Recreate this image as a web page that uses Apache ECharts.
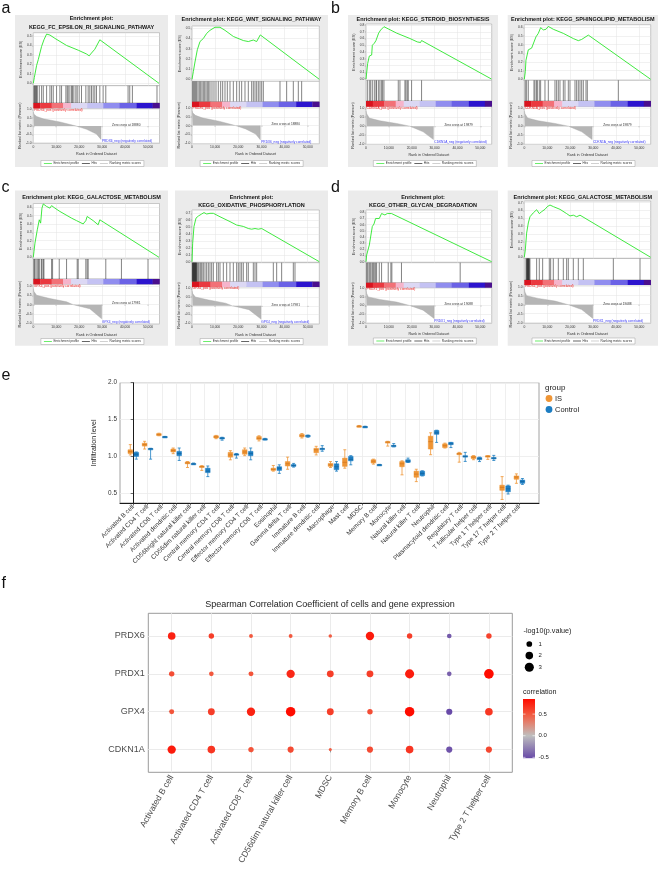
<!DOCTYPE html>
<html><head><meta charset="utf-8">
<script src="https://cdn.jsdelivr.net/npm/echarts@6/dist/echarts.min.js"></script>
<style>html,body{margin:0;padding:0;background:#fff}#c{width:660px;height:876px}</style>
</head><body><div id="c"></div>
<script>
// ================= DATA =================
// ---- GSEA (panels a-d) ----
const rankTicks = [0, 10000, 20000, 30000, 40000, 50000];
const metricTicks = [-1, -0.5, 0, 0.5, 1];
const barSegStart = [0, 3000, 8000, 13000, 16500, 23500, 30500, 37500, 45000, 52000];
const barSegEnd   = [3000, 8000, 13000, 16500, 23500, 30500, 37500, 45000, 52000, 55000];
const barSegColor = ['#D9141F','#EA3940','#F27177','#F6B4CB','#DCD8F4','#C4C2F3','#908DEF','#6B62E6','#2C14CE','#4A0F8E'];

const metPRDX6_rank = [0, 300, 1450, 4350, 11600, 18800, 23200, 27500, 29500, 29500];
const metPRDX6_val  = [0.85, 0.72, 0.58, 0.44, 0.25, 0.0, -0.19, -0.48, -0.80, 0];
const metCDKN1A_rank = [0, 300, 1456, 6115, 13392, 19214, 25036, 29500, 29500];
const metCDKN1A_val  = [0.85, 0.70, 0.45, 0.30, 0.15, 0.0, -0.32, -0.75, 0];
const metGPX4_rank = [0, 300, 1450, 7250, 14500, 17400, 24600, 29800, 29800];
const metGPX4_val  = [0.87, 0.70, 0.50, 0.33, 0.15, 0.0, -0.22, -0.76, 0];
const metPRDX1_rank = [0, 300, 1016, 6100, 13400, 19150, 24960, 29800, 29800];
const metPRDX1_val  = [0.90, 0.70, 0.50, 0.35, 0.20, 0.0, -0.27, -0.76, 0];

const aL_rank = [0,435,1450,2170,3620,4640,5800,7250,9420,14500,19570,23190,24350,25360,26810,28990,54780];
const aL_es   = [0,0.06,0.19,0.25,0.39,0.46,0.52,0.51,0.475,0.40,0.35,0.31,0.29,0.32,0.36,0.46,0];
const aL_hits = [290,580,870,1160,1450,1740,2610,3620,4350,5800,7250,7970,8700,10140,11590,12320,14200,14780,15220,15940,16670,17100,17680,18550,19130,20000,21010,22900,23910,24640,25360,26090,26810,27540,28990,30430,31590,41300,42030,43190,53910];
const aL_esTicks = [0,0.1,0.2,0.3,0.4,0.5];

const aR_rank = [0,576,1296,2304,3456,4896,6336,7776,9935,12095,14255,17855,22174,24334,26494,27934,29500,55000];
const aR_es   = [0,0.075,0.17,0.29,0.37,0.40,0.45,0.48,0.51,0.51,0.48,0.42,0.38,0.37,0.385,0.37,0.435,0];
const aR_hits = [288,720,1152,1584,2016,2592,3168,3744,4320,4896,5472,6048,6624,7200,7776,8640,9504,10368,11376,12384,13248,14256,15264,16416,17856,19296,20448,21456,22896,24336,25776,26496,27216,27936,28656,29376,30096,30816,38016,40896,43776,45936,47376];
const aR_esTicks = [0,0.1,0.2,0.3,0.4,0.5];

const bL_rank = [0,582,728,1456,2475,2766,3639,4367,4949,5531,6114,6405,6841,7278,7860,13392,19214,22416,23872,24309,54876];
const bL_es   = [0,0,0.23,0.34,0.355,0.50,0.53,0.57,0.55,0.68,0.70,0.725,0.70,0.75,0.775,0.68,0.60,0.55,0.54,0.57,0];
const bL_hits = [582,1456,2038,2766,3640,4368,4659,5533,6115,6843,7280,7862,14123,14851,17035,17472,18054,18491,19947,24315];
const bL_esTicks = [0,0.1,0.2,0.3,0.4,0.5,0.6,0.7,0.8];

const bR_rank = [0,435,726,1306,1742,2467,3193,3919,5080,6096,7112,8273,9434,10450,12627,16981,21335,23512,24964,26415,27866,55000];
const bR_es   = [0,0.088,0.22,0.24,0.34,0.32,0.36,0.34,0.49,0.53,0.596,0.57,0.577,0.61,0.577,0.53,0.47,0.446,0.46,0.485,0.51,0];
const bR_hits = [435,1016,1741,4208,4643,5369,5659,6530,7110,8996,10447,13349,14074,14800,15525,16976,17702,19153,19879,22055,22781,23506,24232,24958,25683,26844,27424,40918];
const bR_esTicks = [0,0.1,0.2,0.3,0.4,0.5,0.6];

const cL_rank = [0,290,725,1159,1739,2609,3188,3768,4348,5797,7246,7971,9420,11594,16667,18841,21739,22899,23478,26087,28261,28986,54783];
const cL_es   = [0,0.068,0.17,0.16,0.33,0.45,0.41,0.59,0.64,0.61,0.59,0.62,0.59,0.55,0.47,0.44,0.40,0.44,0.49,0.44,0.39,0.45,0];
const cL_hits = [290,580,1159,1739,2319,2609,3478,3768,4348,4638,7971,8406,11304,14493,19130,19565,22899,23478,23913,31594,38406,49997];
const cL_esTicks = [0,0.1,0.2,0.3,0.4,0.5,0.6];

const cR_rank = [0,288,864,1728,2736,4176,5184,6336,7776,9215,12095,16415,19294,22174,24334,25774,27214,28654,30094,55000];
const cR_es   = [0,0.266,0.51,0.63,0.66,0.69,0.71,0.69,0.70,0.70,0.65,0.58,0.53,0.51,0.48,0.47,0.48,0.47,0.48,0];
const cR_hits = [144,288,432,576,720,864,1008,1152,1296,1440,1584,1728,1872,2016,2448,2880,3456,3888,4320,4896,5616,6336,7056,7776,8496,9216,10656,11376,12096,13536,14976,16416,17856,19296,20016,20736,21456,22176,23616,24336,26496,27216,27936,35136,36576,38736,43776,44496];
const cR_esTicks = [0,0.1,0.2,0.3,0.4,0.5,0.6,0.7];

const dL_rank = [0,290,1016,1451,2032,2758,3483,4209,4935,5806,6821,8273,9289,10160,11176,55000];
const dL_es   = [0,0.108,0.124,0.27,0.30,0.57,0.61,0.70,0.73,0.70,0.78,0.757,0.78,0.757,0.78,0];
const dL_hits = [290,726,1306,1741,2177,2757,3192,3628,4208,4643,5804,6820,9722,10883,11318,15526,41208];
const dL_esTicks = [0,0.1,0.2,0.3,0.4,0.5,0.6,0.7,0.8];

const dR_rank = [0,435,1016,1742,2467,3193,3919,5370,6531,7547,8273,8999,10015,11176,12627,15530,18433,19884,21335,22787,24238,55000];
const dR_es   = [0,0.094,0.31,0.44,0.52,0.54,0.57,0.61,0.56,0.585,0.60,0.615,0.65,0.67,0.65,0.615,0.56,0.53,0.54,0.52,0.54,0];
const dR_hits = [726,1016,1161,1306,1451,1596,1741,1886,2031,2177,2467,5369,6530,7981,10883,11463,12624,14800,16977,18428,19153,21330,23506,25683,38742,50350];
const dR_esTicks = [0,0.1,0.2,0.3,0.4,0.5,0.6,0.7];

// ---- panel e ----
const immuneCells = ['Activated B cell','Activated CD4 T cell','Activated CD8 T cell','Activated dendritic cell','CD56bright natural killer cell','CD56dim natural killer cell','Central memory CD4 T cell','Central memory CD8 T cell','Effector memory CD4 T cell','Effector memory CD8 T cell','Eosinophil','Gamma delta T cell','Immature B cell','Immature dendritic cell','Macrophage','Mast cell','MDSC','Memory B cell','Monocyte','Natural killer cell','Natural killer T cell','Neutrophil','Plasmacytoid dendritic cell','Regulatory T cell','T follicular helper cell','Type 1 T helper cell','Type 17 T helper cell','Type 2 T helper cell'];
// [min, q1, median, q3, max]
const isBox = [
[1.02,1.04,1.065,1.09,1.16],[1.10,1.14,1.16,1.18,1.205],[1.28,1.283,1.295,1.31,1.315],[1.037,1.06,1.08,1.10,1.114],
[0.85,0.90,0.91,0.925,0.93],[0.81,0.85,0.86,0.87,0.875],[1.24,1.25,1.265,1.28,1.285],[0.954,0.99,1.02,1.055,1.078],
[1.01,1.03,1.06,1.09,1.114],[1.21,1.23,1.245,1.27,1.28],[0.80,0.81,0.825,0.84,0.877],[0.826,0.87,0.90,0.93,0.99],
[1.25,1.265,1.28,1.30,1.31],[1.02,1.05,1.09,1.11,1.137],[0.85,0.865,0.885,0.905,0.93],[0.84,0.865,0.92,0.977,1.09],
[1.40,1.405,1.41,1.415,1.42],[0.895,0.91,0.935,0.955,0.963],[1.14,1.19,1.195,1.20,1.205],[0.75,0.86,0.90,0.93,0.94],
[0.658,0.717,0.76,0.80,0.826],[1.023,1.10,1.20,1.274,1.32],[1.114,1.12,1.145,1.17,1.18],[0.922,1.023,1.035,1.046,1.055],
[0.955,0.97,0.99,1.005,1.01],[0.96,0.99,1.0,1.01,1.01],[0.416,0.54,0.58,0.61,0.726],[0.635,0.69,0.72,0.735,0.763]];
const controlBox = [
[0.963,1.0,1.03,1.055,1.06],[0.963,1.10,1.105,1.108,1.11],[1.26,1.262,1.266,1.27,1.272],[0.945,1.01,1.04,1.068,1.114],
[0.89,0.895,0.90,0.905,0.91],[0.726,0.78,0.80,0.84,0.87],[1.22,1.24,1.25,1.255,1.26],[0.977,1.02,1.025,1.035,1.04],
[0.954,1.01,1.04,1.068,1.114],[1.225,1.23,1.235,1.24,1.245],[0.77,0.81,0.84,0.86,0.886],[0.855,0.865,0.875,0.89,0.905],
[1.26,1.27,1.28,1.285,1.29],[1.07,1.10,1.105,1.11,1.146],[0.80,0.82,0.86,0.90,0.93],[0.886,0.94,0.96,1.0,1.01],
[1.395,1.40,1.403,1.406,1.41],[0.88,0.882,0.886,0.89,0.892],[1.13,1.14,1.146,1.15,1.174],[0.918,0.92,0.935,0.955,0.977],
[0.735,0.74,0.77,0.80,0.805],[1.19,1.30,1.32,1.352,1.355],[1.12,1.16,1.17,1.19,1.19],[0.932,0.99,1.0,1.01,1.055],
[0.93,0.955,0.97,0.985,0.99],[0.945,0.97,0.977,0.985,1.014],[0.49,0.52,0.56,0.60,0.61],[0.62,0.635,0.66,0.68,0.70]];
const sigMarks = ['**','**','*','','','**','','','','','','','','','','','*','***','**','','','*','','','','','','*'];
const sigLevel = 1.9;
const eYTicks = [0.5, 1.0, 1.5, 2.0];

// ---- panel f ----
const fCells = ['Activated B cell','Activated CD4 T cell','Activated CD8 T cell','CD56dim natural killer cell','MDSC','Memory B cell','Monocyte','Neutrophil','Type 2 T helper cell'];
const fGenes = ['CDKN1A','GPX4','PRDX1','PRDX6'];
const logP_CDKN1A = [2.45,2.0,0.85,1.2,0.05,1.2,2.0,1.2,1.2];
const logP_GPX4   = [0.67,1.56,2.45,3.3,1.56,0.85,3.3,1.2,2.0];
const logP_PRDX1  = [0.85,0.54,0.67,2.45,1.56,1.56,3.0,0.54,3.4];
const logP_PRDX6  = [2.0,0.85,0.28,0.28,0.18,2.45,0.85,0.54,0.85];
const corr_CDKN1A = [0.78,0.66,0.52,0.56,0.48,0.56,0.66,-0.48,0.58];
const corr_GPX4   = [0.52,0.62,0.75,0.85,0.62,0.55,0.85,-0.52,0.65];
const corr_PRDX1  = [0.55,0.50,0.52,0.72,0.62,0.62,0.77,-0.42,0.85];
const corr_PRDX6  = [0.75,0.62,0.50,0.50,0.48,0.78,0.62,-0.45,0.60];
const sizeLegendVals = [1, 2, 3];
const corrLegendVals = [0.5, 0.0, -0.5];

// ================= BUILD =================
const FF = '"Liberation Sans", Arial, Helvetica, sans-serif';
const rankMax = 55000;
const grids = [], xAxes = [], yAxes = [], series = [], gfx = [];
function addGrid(g, x, y) {
  const i = grids.length; grids.push(g);
  xAxes.push(Object.assign({gridIndex: i}, x)); yAxes.push(Object.assign({gridIndex: i}, y));
  return i;
}
function txt(x, y, text, style, rot) {
  gfx.push({type: 'text', x: x, y: y, z: 100, silent: true, rotation: rot || 0,
    style: Object.assign({text: text, fontSize: 4, fontFamily: FF, fill: '#222', align: 'left', verticalAlign: 'middle'}, style || {})});
}
const fmtK = v => String(v).replace(/\B(?=(\d{3})+(?!\d))/g, ',');

function gsea(L, P) {
  const W = L.px[1] - L.px[0];
  const bc = '#9A9A9A';
  gfx.push({type: 'rect', z: -5, silent: true, shape: {x: L.bg[0], y: L.bg[1], width: L.bg[2] - L.bg[0], height: L.bg[3] - L.bg[1]}, style: {fill: '#EBEBEB'}});
  P.title.forEach((t, i) => txt((L.bg[0] + L.bg[2]) / 2, L.titleY[i], t, {fontSize: 5.5, fontWeight: 'bold', align: 'center', fill: '#111'}));
  const gridLine = {lineStyle: {color: '#E3E3E3', width: 0.5}};
  const nameStyle = {fontSize: 3.7, color: '#333', fontFamily: FF};
  // ES plot
  const sc = (L.zeroY - L.tickY) / L.tickV;
  const esMax = (L.zeroY - L.es[0]) / sc, esMin = -(L.es[1] - L.zeroY) / sc;
  let gi = addGrid({left: L.px[0], top: L.es[0], width: W, height: L.es[1] - L.es[0], show: true, backgroundColor: '#fff', borderColor: bc, borderWidth: 0.5},
    {type: 'value', min: 0, max: rankMax, axisLine: {show: false}, axisTick: {show: false, customValues: rankTicks}, axisLabel: {show: false, customValues: rankTicks}, splitLine: gridLine},
    {type: 'value', min: esMin, max: esMax, name: 'Enrichment score (ES)', nameLocation: 'middle', nameGap: 9, nameTextStyle: nameStyle,
     axisLine: {show: false}, axisTick: {customValues: P.esTicks, length: 1.2, lineStyle: {color: '#777', width: 0.4}},
     axisLabel: {customValues: P.esTicks, fontSize: 3.3, color: '#333', margin: 1.6, fontFamily: FF, formatter: v => v.toFixed(1)}, splitLine: gridLine});
  series.push({type: 'line', xAxisIndex: gi, yAxisIndex: gi, data: P.rank.map((r, i) => [r, P.es[i]]), symbol: 'none', silent: true, z: 3,
    lineStyle: {color: '#2BE62B', width: 0.9}});
  // Hits
  gi = addGrid({left: L.px[0], top: L.hit[0], width: W, height: L.hit[1] - L.hit[0], show: true, backgroundColor: '#fff', borderColor: bc, borderWidth: 0.5},
    {type: 'value', min: 0, max: rankMax, show: false}, {type: 'value', min: 0, max: 1, show: false});
  series.push({type: 'custom', xAxisIndex: gi, yAxisIndex: gi, silent: true, data: P.hits.map(h => [h, 0.5]),
    renderItem: (params, api) => {
      const x = api.coord([api.value(0), 0.5])[0], cs = params.coordSys;
      return {type: 'line', shape: {x1: x, y1: cs.y, x2: x, y2: cs.y + cs.height}, style: {stroke: '#1E1E1E', lineWidth: 0.55}};
    }});
  // colour bar
  gi = addGrid({left: L.px[0], top: L.bar[0], width: W, height: L.bar[1] - L.bar[0], show: true, borderColor: bc, borderWidth: 0.4},
    {type: 'value', min: 0, max: rankMax, show: false}, {type: 'value', min: 0, max: 1, show: false});
  series.push({type: 'custom', xAxisIndex: gi, yAxisIndex: gi, silent: true, data: barSegStart.map((s, i) => [s, 0.5, barSegEnd[i], i]),
    renderItem: (params, api) => {
      const x1 = api.coord([api.value(0), 0.5])[0], x2 = api.coord([api.value(2), 0.5])[0], cs = params.coordSys;
      return {type: 'rect', shape: {x: x1, y: cs.y, width: x2 - x1 + 0.3, height: cs.height}, style: {fill: barSegColor[api.value(3)]}};
    }});
  // ranked metric
  const rs = (L.rank[3] - L.rank[2]) / 2;
  const rMax = 1 + (L.rank[2] - L.rank[0]) / rs, rMin = -1 - (L.rank[1] - L.rank[3]) / rs;
  gi = addGrid({left: L.px[0], top: L.rank[0], width: W, height: L.rank[1] - L.rank[0], show: true, backgroundColor: '#fff', borderColor: bc, borderWidth: 0.5},
    {type: 'value', min: 0, max: rankMax, name: 'Rank in Ordered Dataset', nameLocation: 'middle', nameGap: 8.5, nameTextStyle: nameStyle,
     axisLine: {show: false}, axisTick: {customValues: rankTicks, length: 1.2, lineStyle: {color: '#777', width: 0.4}},
     axisLabel: {customValues: rankTicks, fontSize: 3.3, color: '#333', margin: 1.8, fontFamily: FF, formatter: fmtK}, splitLine: gridLine},
    {type: 'value', min: rMin, max: rMax, name: 'Ranked list metric (Pearson)', nameLocation: 'middle', nameGap: 9, nameTextStyle: nameStyle,
     axisLine: {show: false}, axisTick: {customValues: metricTicks, length: 1.2, lineStyle: {color: '#777', width: 0.4}},
     axisLabel: {customValues: metricTicks, fontSize: 3.3, color: '#333', margin: 1.6, fontFamily: FF, formatter: v => v.toFixed(1)}, splitLine: gridLine});
  series.push({type: 'line', xAxisIndex: gi, yAxisIndex: gi, data: P.mRank.map((r, i) => [r, P.mVal[i]]), symbol: 'none', silent: true,
    lineStyle: {color: '#A6A6A6', width: 0.4}, areaStyle: {color: '#B5B5B5', opacity: 1}});
  const xOf = r => L.px[0] + r / rankMax * W;
  const yOf = v => L.rank[2] + (1 - v) * rs;
  txt(L.px[0] + 0.6, L.rank[0] + 1.6, P.gene + '_pos (positively correlated)', {fontSize: 3.2, fill: '#F02020'});
  txt(xOf(29900), L.rank[1] - 1.7, P.gene + '_neg (negatively correlated)', {fontSize: 3.2, fill: '#3535F5'});
  txt(xOf(40500), yOf(0.06), 'Zero cross at ' + P.zero, {fontSize: 3.2, fill: '#333', align: 'center'});
  // legend box
  const lw = 103, lx = (L.px[0] + L.px[1]) / 2 - lw / 2 - 4, ly = L.legY;
  gfx.push({type: 'rect', z: 90, silent: true, shape: {x: lx, y: ly - 3, width: lw, height: 6}, style: {fill: '#fff', stroke: '#8A8A8A', lineWidth: 0.4}});
  const items = [[3, '#2BE62B', 'Enrichment profile'], [41, '#222', 'Hits'], [59, '#BBBBBB', 'Ranking metric scores']];
  items.forEach(it => {
    gfx.push({type: 'line', z: 95, silent: true, shape: {x1: lx + it[0], y1: ly, x2: lx + it[0] + 8, y2: ly}, style: {stroke: it[1], lineWidth: 0.7}});
    txt(lx + it[0] + 9.5, ly, it[2], {fontSize: 3.2, fill: '#333'});
  });
}

const gseaPanels = [
  [{bg:[15,15,168,167], titleY:[18.5,27], px:[33.3,159.5], es:[32.7,85.7], zeroY:83.3, tickY:36, tickV:0.5, hit:[85.7,103], bar:[103,108.3], rank:[108.3,143.3,109.5,142.7], legY:163.5},
   {title:['Enrichment plot:','KEGG_FC_EPSILON_RI_SIGNALING_PATHWAY'], rank:aL_rank, es:aL_es, hits:aL_hits, esTicks:aL_esTicks, mRank:metPRDX6_rank, mVal:metPRDX6_val, gene:'PRDX6', zero:'18880'}],
  [{bg:[175,15,328,167], titleY:[19], px:[192,319.3], es:[26,81.3], zeroY:79.3, tickY:28.3, tickV:0.5, hit:[81.3,101.7], bar:[101.7,107], rank:[107,143.7,107.9,143.3], legY:163.5},
   {title:['Enrichment plot: KEGG_WNT_SIGNALING_PATHWAY'], rank:aR_rank, es:aR_es, hits:aR_hits, esTicks:aR_esTicks, mRank:metPRDX6_rank, mVal:metPRDX6_val, gene:'PRDX6', zero:'18880'}],
  [{bg:[348,15,498,167], titleY:[19], px:[366,491.7], es:[24,80.3], zeroY:79, tickY:25, tickV:0.8, hit:[80.3,101], bar:[101,106.7], rank:[106.7,144.3,108.3,144], legY:163.5},
   {title:['Enrichment plot: KEGG_STEROID_BIOSYNTHESIS'], rank:bL_rank, es:bL_es, hits:bL_hits, esTicks:bL_esTicks, mRank:metCDKN1A_rank, mVal:metCDKN1A_val, gene:'CDKN1A', zero:'19879'}],
  [{bg:[507.7,15,658,167], titleY:[19], px:[524.3,650.7], es:[24.7,80.3], zeroY:79.3, tickY:27.3, tickV:0.6, hit:[80.3,101], bar:[101,106.7], rank:[106.7,144.3,108.3,144], legY:163.5},
   {title:['Enrichment plot: KEGG_SPHINGOLIPID_METABOLISM'], rank:bR_rank, es:bR_es, hits:bR_hits, esTicks:bR_esTicks, mRank:metCDKN1A_rank, mVal:metCDKN1A_val, gene:'CDKN1A', zero:'19879'}],
  [{bg:[15,190.5,168,345.7], titleY:[197], px:[33.3,159.5], es:[203.5,259], zeroY:257.3, tickY:207.3, tickV:0.6, hit:[259,279], bar:[279,284.3], rank:[284.3,324,286,323.3], legY:341.5},
   {title:['Enrichment plot: KEGG_GALACTOSE_METABOLISM'], rank:cL_rank, es:cL_es, hits:cL_hits, esTicks:cL_esTicks, mRank:metGPX4_rank, mVal:metGPX4_val, gene:'GPX4', zero:'17981'}],
  [{bg:[175,190.5,328,345.7], titleY:[197,205], px:[192,319.3], es:[210,262.7], zeroY:261.7, tickY:213.3, tickV:0.7, hit:[262.7,281.7], bar:[281.7,287], rank:[287,324,288.3,323.3], legY:341.5},
   {title:['Enrichment plot:','KEGG_OXIDATIVE_PHOSPHORYLATION'], rank:cR_rank, es:cR_es, hits:cR_hits, esTicks:cR_esTicks, mRank:metGPX4_rank, mVal:metGPX4_val, gene:'GPX4', zero:'17981'}],
  [{bg:[348,190.5,498,345.7], titleY:[197,205], px:[366,491.7], es:[210,262.7], zeroY:261.7, tickY:212.3, tickV:0.8, hit:[262.7,282.7], bar:[282.7,287.7], rank:[287.7,323.3,288.3,322.7], legY:341},
   {title:['Enrichment plot:','KEGG_OTHER_GLYCAN_DEGRADATION'], rank:dL_rank, es:dL_es, hits:dL_hits, esTicks:dL_esTicks, mRank:metPRDX1_rank, mVal:metPRDX1_val, gene:'PRDX1', zero:'19088'}],
  [{bg:[507.7,190.5,658,345.7], titleY:[197], px:[524.3,650.7], es:[201,258.5], zeroY:257.3, tickY:202.7, tickV:0.7, hit:[258.5,280], bar:[280,285], rank:[285,323.3,286.7,322.7], legY:341},
   {title:['Enrichment plot: KEGG_GALACTOSE_METABOLISM'], rank:dR_rank, es:dR_es, hits:dR_hits, esTicks:dR_esTicks, mRank:metPRDX1_rank, mVal:metPRDX1_val, gene:'PRDX1', zero:'19088'}]
];
gseaPanels.forEach(p => gsea(p[0], p[1]));

// panel letters
[['a',1.5,9],['b',331,9],['c',1.5,188],['d',331,188],['e',1.5,376],['f',1.5,584]].forEach(l =>
  txt(l[1], l[2], l[0], {fontSize: 16, fill: '#111'}));

// ---------- panel e ----------
const IS_COL = '#EF9535', CT_COL = '#1C7DC2';
const catIdx = immuneCells.map((c, i) => i);
const ei = addGrid({left: 120, top: 382.7, width: 419, height: 120.3, show: true, borderColor: '#8C8C8C', borderWidth: 0.8},
  {type: 'value', min: -0.92, max: 28.38, axisLine: {show: true, lineStyle: {color: '#1A1A1A', width: 1}},
   axisTick: {customValues: catIdx, length: 2.5, lineStyle: {color: '#333', width: 0.7}},
   axisLabel: {customValues: catIdx, rotate: 45, fontSize: 6.4, color: '#333', margin: 3, fontFamily: FF, formatter: v => immuneCells[Math.round(v)]},
   splitLine: {lineStyle: {color: '#EBEBEB', width: 0.8}}},
  {type: 'value', min: 0.368, max: 2.0, name: 'Infiltration level', nameLocation: 'middle', nameGap: 19, nameTextStyle: {fontSize: 7, color: '#222', fontFamily: FF},
   axisLine: {show: true, lineStyle: {color: '#1A1A1A', width: 1}},
   axisTick: {customValues: eYTicks, length: 2.5, lineStyle: {color: '#333', width: 0.7}},
   axisLabel: {customValues: eYTicks, fontSize: 6.4, color: '#333', margin: 3, fontFamily: FF, formatter: v => v.toFixed(1)},
   splitLine: {lineStyle: {color: '#EBEBEB', width: 0.8}}});
function boxRender(off, color, medCol) {
  return (params, api) => {
    const i = api.value(0);
    const cx = api.coord([i + off, 1])[0];
    const y = k => api.coord([i, api.value(k)])[1];
    const yMin = y(1), yQ1 = y(2), yMed = y(3), yQ3 = y(4), yMax = y(5);
    const hw = 2.3, cw = 1.5;
    return {type: 'group', children: [
      {type: 'line', shape: {x1: cx, y1: yMax, x2: cx, y2: yMin}, style: {stroke: color, lineWidth: 0.8}},
      {type: 'line', shape: {x1: cx - cw, y1: yMax, x2: cx + cw, y2: yMax}, style: {stroke: color, lineWidth: 0.8}},
      {type: 'line', shape: {x1: cx - cw, y1: yMin, x2: cx + cw, y2: yMin}, style: {stroke: color, lineWidth: 0.8}},
      {type: 'rect', shape: {x: cx - hw, y: yQ3, width: 2 * hw, height: Math.max(yQ1 - yQ3, 1.4)}, style: {fill: color, stroke: color, lineWidth: 0.5}},
      {type: 'line', shape: {x1: cx - hw, y1: yMed, x2: cx + hw, y2: yMed}, style: {stroke: medCol, lineWidth: 0.6}}
    ]};
  };
}
series.push({type: 'custom', name: 'IS', xAxisIndex: ei, yAxisIndex: ei, silent: true, encode: {x: 0, y: [1, 2, 3, 4, 5]},
  data: isBox.map((b, i) => [i].concat(b)), renderItem: boxRender(-0.2, IS_COL, '#C86F1A'), z: 4});
series.push({type: 'custom', name: 'Control', xAxisIndex: ei, yAxisIndex: ei, silent: true, encode: {x: 0, y: [1, 2, 3, 4, 5]},
  data: controlBox.map((b, i) => [i].concat(b)), renderItem: boxRender(0.22, CT_COL, '#0F5C94'), z: 4});
series.push({type: 'scatter', xAxisIndex: ei, yAxisIndex: ei, silent: true, symbolSize: 1, itemStyle: {opacity: 0},
  data: sigMarks.map((s, i) => [i, sigLevel, s]).filter(d => d[2]),
  label: {show: true, position: 'inside', formatter: p => p.data[2], fontSize: 7, color: '#222', fontFamily: FF}});
txt(545, 388, 'group', {fontSize: 8, fill: '#222'});
gfx.push({type: 'circle', z: 100, silent: true, shape: {cx: 549, cy: 398.5, r: 3.4}, style: {fill: IS_COL}});
gfx.push({type: 'circle', z: 100, silent: true, shape: {cx: 549, cy: 409.5, r: 3.4}, style: {fill: CT_COL}});
txt(555, 398.5, 'IS', {fontSize: 7.5, fill: '#222'});
txt(555, 409.5, 'Control', {fontSize: 7.5, fill: '#222'});

// ---------- panel f ----------
const corrStops = [[-0.52, [104, 74, 168]], [0, [190, 190, 190]], [0.3, [226, 130, 112]], [0.5, [242, 88, 62]], [0.85, [255, 12, 0]]];
function corrColor(v) {
  for (let k = 0; k < corrStops.length - 1; k++) {
    const a = corrStops[k], b = corrStops[k + 1];
    if (v <= b[0] || k === corrStops.length - 2) {
      const t = Math.max(0, Math.min(1, (v - a[0]) / (b[0] - a[0])));
      const c = a[1].map((x, j) => Math.round(x + (b[1][j] - x) * t));
      return 'rgb(' + c.join(',') + ')';
    }
  }
}
const sizeOf = p => Math.sqrt(8 + 25 * p);
const fLogP = [logP_CDKN1A, logP_GPX4, logP_PRDX1, logP_PRDX6];
const fCorr = [corr_CDKN1A, corr_GPX4, corr_PRDX1, corr_PRDX6];
const fData = [];
fGenes.forEach((g, r) => fCells.forEach((c, k) => fData.push([k, r, fLogP[r][k], fCorr[r][k]])));
const colIdx = fCells.map((c, i) => i), rowIdx = fGenes.map((g, i) => i);
const fi = addGrid({left: 148.3, top: 613.3, width: 364, height: 159, show: true, borderColor: '#8F8F8F', borderWidth: 0.9},
  {type: 'value', min: -0.59, max: 8.59, axisLine: {show: false},
   axisTick: {customValues: colIdx, length: 2.8, lineStyle: {color: '#7F7F7F', width: 0.8}},
   axisLabel: {customValues: colIdx, rotate: 60, fontSize: 8.6, color: '#4D4D4D', margin: 3.5, fontFamily: FF, formatter: v => fCells[Math.round(v)]},
   splitLine: {lineStyle: {color: '#EBEBEB', width: 1}}},
  {type: 'value', min: -0.6, max: 3.6, axisLine: {show: false},
   axisTick: {customValues: rowIdx, length: 2.8, lineStyle: {color: '#7F7F7F', width: 0.8}},
   axisLabel: {customValues: rowIdx, fontSize: 9, color: '#4D4D4D', margin: 3.5, fontFamily: FF, formatter: v => fGenes[Math.round(v)]},
   splitLine: {lineStyle: {color: '#EBEBEB', width: 1}}});
series.push({type: 'scatter', xAxisIndex: fi, yAxisIndex: fi, silent: true, z: 5, data: fData,
  symbolSize: d => sizeOf(d[2]), itemStyle: {color: p => corrColor(p.data[3]), opacity: 1}});
txt(330, 605, 'Spearman Correlation Coefficient of cells and gene expression', {fontSize: 9, fill: '#222', align: 'center'});
// size legend
txt(523.5, 631, '-log10(p.value)', {fontSize: 7.2, fill: '#222'});
sizeLegendVals.forEach((v, i) => {
  const cy = 644 + i * 11.6;
  gfx.push({type: 'circle', z: 100, silent: true, shape: {cx: 529.3, cy: cy, r: sizeOf(v) / 2}, style: {fill: '#000'}});
  txt(538.5, cy, String(v), {fontSize: 6, fill: '#222'});
});
// colour legend
txt(523, 692, 'correlation', {fontSize: 7.2, fill: '#222'});
const cbTop = 699, cbBot = 758.2, cbMax = 0.85, cbMin = -0.52;
const cbY = v => cbTop + (cbMax - v) / (cbMax - cbMin) * (cbBot - cbTop);
gfx.push({type: 'rect', z: 100, silent: true, shape: {x: 523, y: cbTop, width: 12, height: cbBot - cbTop},
  style: {fill: new echarts.graphic.LinearGradient(0, 0, 0, 1, corrStops.slice().reverse().map(s => ({offset: (cbMax - s[0]) / (cbMax - cbMin), color: 'rgb(' + s[1].join(',') + ')'})))}});
corrLegendVals.forEach(v => {
  const y = cbY(v);
  gfx.push({type: 'line', z: 101, silent: true, shape: {x1: 523, y1: y, x2: 525.5, y2: y}, style: {stroke: '#fff', lineWidth: 0.6}});
  gfx.push({type: 'line', z: 101, silent: true, shape: {x1: 532.5, y1: y, x2: 535, y2: y}, style: {stroke: '#fff', lineWidth: 0.6}});
  txt(538.5, y, v.toFixed(1), {fontSize: 6, fill: '#222'});
});

const chart = echarts.init(document.getElementById('c'), null, {renderer: 'canvas', width: 660, height: 876});
chart.setOption({
  animation: false,
  backgroundColor: '#fff',
  textStyle: {fontFamily: FF},
  grid: grids, xAxis: xAxes, yAxis: yAxes, series: series,
  graphic: {elements: gfx}
});
</script>
</body></html>
